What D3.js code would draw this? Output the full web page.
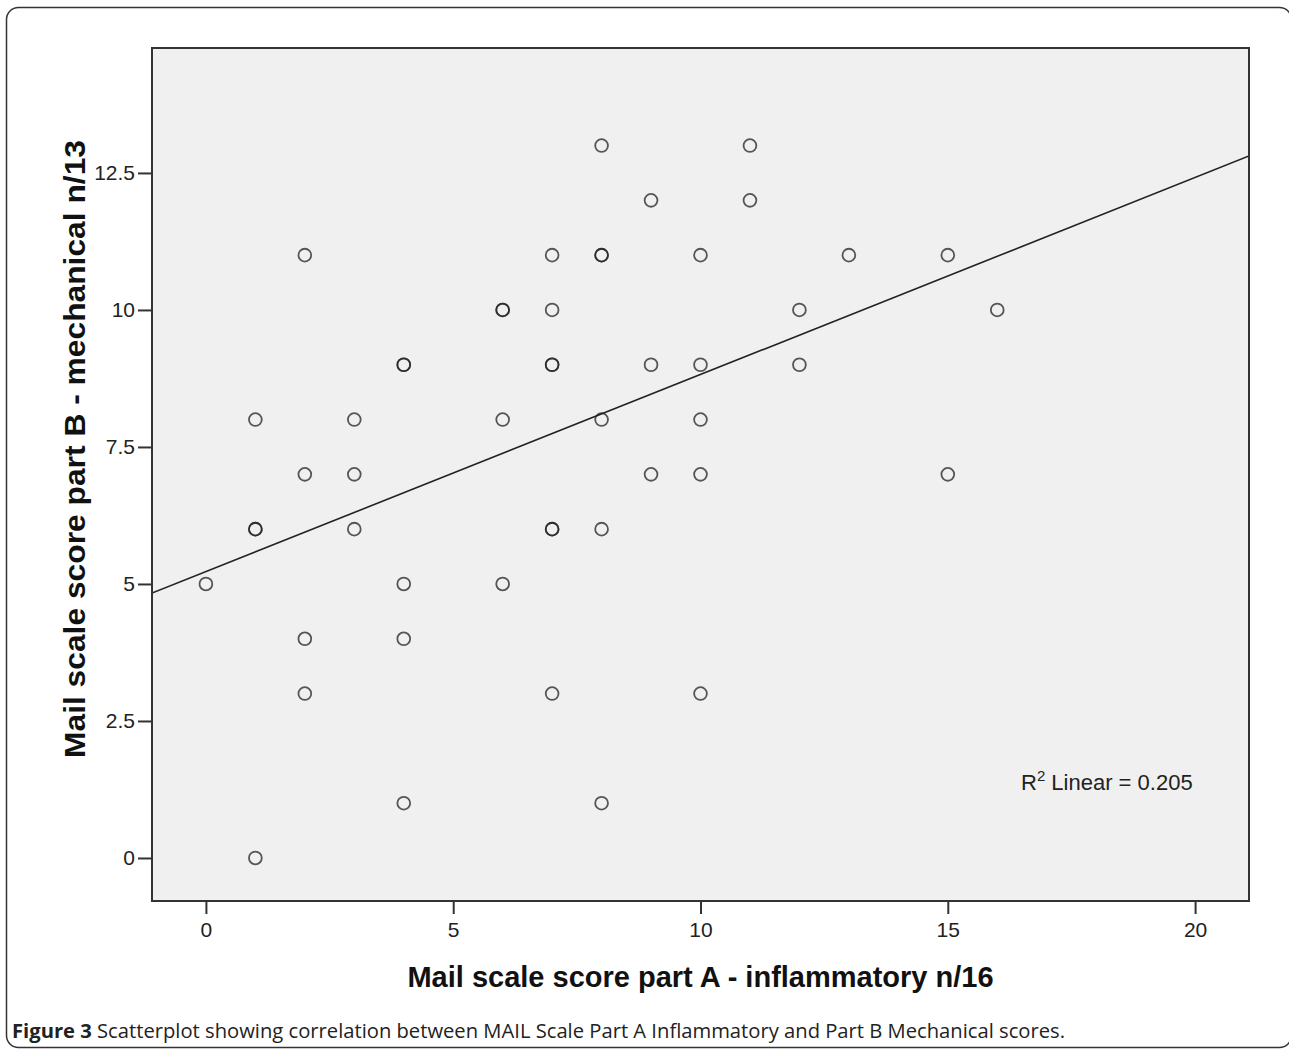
<!DOCTYPE html>
<html>
<head>
<meta charset="utf-8">
<script src="https://cdn.jsdelivr.net/npm/d3@7"></script>
<style>
    body { margin: 0; background: #fff; }
    svg { display: block; }
</style>
</head>
<body>
<div id="chart"></div>
<script>
(() => {

    // Mail scale part A (inflammatory) and part B (mechanical), one entry per patient
    const partA = [0, 1, 1, 1, 1, 2, 2, 2, 2, 3, 3, 3, 4, 4, 4, 4, 4, 6, 6, 6, 6, 7, 7, 7, 7, 7, 7, 7, 8, 8, 8, 8, 8, 8, 9, 9, 9, 10, 10, 10, 10, 10, 11, 11, 12, 12, 13, 15, 15, 16];
    const partB = [5, 0, 6, 6, 8, 11, 7, 4, 3, 8, 7, 6, 9, 9, 5, 4, 1, 10, 10, 8, 5, 11, 10, 9, 9, 6, 6, 3, 13, 11, 11, 8, 6, 1, 12, 9, 7, 11, 9, 8, 7, 3, 13, 12, 10, 9, 11, 11, 7, 10];

    const xTicks = [0, 5, 10, 15, 20];
    const yTicks = [0, 2.5, 5, 7.5, 10, 12.5];

    const svgWidth = 1289;
    const svgHeight = 1051;

    const plot = {
        left: 152,
        top: 48,
        right: 1249,
        bottom: 901
    };

    const svg = d3.select('#chart').append('svg')
        .attr('width', svgWidth)
        .attr('height', svgHeight);

    // Figure frame
    svg.append('rect')
        .attr('x', 6.5)
        .attr('y', 7.5)
        .attr('width', 1285)
        .attr('height', 1040)
        .attr('rx', 12)
        .attr('fill', 'none')
        .attr('stroke', '#333')
        .attr('stroke-width', 1.5);

    const x = d3.scaleLinear()
        .domain([-1.09, 21.09])
        .range([plot.left, plot.right]);

    const y = d3.scaleLinear()
        .domain([-0.785, 14.78])
        .range([plot.bottom, plot.top]);

    svg.append('rect')
        .attr('x', plot.left)
        .attr('y', plot.top)
        .attr('width', plot.right - plot.left)
        .attr('height', plot.bottom - plot.top)
        .attr('fill', '#f0f0f0');

    svg.append('clipPath')
        .attr('id', 'plot-clip')
        .append('rect')
        .attr('x', plot.left)
        .attr('y', plot.top)
        .attr('width', plot.right - plot.left)
        .attr('height', plot.bottom - plot.top);

    // Axes
    const xAxis = svg.append('g')
        .attr('transform', `translate(0,${plot.bottom})`)
        .call(d3.axisBottom(x).tickValues(xTicks).tickFormat(d => d).tickSize(13).tickSizeOuter(0));

    const yAxis = svg.append('g')
        .attr('transform', `translate(${plot.left},0)`)
        .call(d3.axisLeft(y).tickValues(yTicks).tickFormat(d => d).tickSize(14).tickSizeOuter(0));

    [xAxis, yAxis].forEach(axis => {
        axis.select('.domain').remove();
        axis.selectAll('line').attr('stroke', '#333').attr('stroke-width', 2);
        axis.selectAll('text')
            .attr('fill', '#222')
            .style('font-family', '"Liberation Sans", Arial, sans-serif')
            .style('font-size', '21px');
    });
    xAxis.selectAll('text').attr('dy', '0.95em').attr('y', 16);
    yAxis.selectAll('text').attr('x', -17);

    // Linear fit
    const data = partA.map((a, i) => ({ a: a, b: partB[i] }));
    const meanA = d3.mean(partA);
    const meanB = d3.mean(partB);
    const sxy = d3.sum(data, d => (d.a - meanA) * (d.b - meanB));
    const sxx = d3.sum(data, d => (d.a - meanA) ** 2);
    const syy = d3.sum(data, d => (d.b - meanB) ** 2);
    const slope = sxy / sxx;
    const intercept = meanB - slope * meanA;
    const r2 = sxy * sxy / (sxx * syy);

    const ends = x.domain();
    svg.append('line')
        .attr('clip-path', 'url(#plot-clip)')
        .attr('x1', x(ends[0]))
        .attr('y1', y(intercept + slope * ends[0]))
        .attr('x2', x(ends[1]))
        .attr('y2', y(intercept + slope * ends[1]))
        .attr('stroke', '#222')
        .attr('stroke-width', 1.6);

    // Points
    svg.append('g')
        .selectAll('circle')
        .data(data)
        .enter()
        .append('circle')
        .attr('cx', d => x(d.a))
        .attr('cy', d => y(d.b))
        .attr('r', 6.4)
        .attr('fill', 'none')
        .attr('stroke', '#222')
        .attr('stroke-opacity', 0.75)
        .attr('stroke-width', 1.8);

    // Plot frame
    svg.append('rect')
        .attr('x', plot.left)
        .attr('y', plot.top)
        .attr('width', plot.right - plot.left)
        .attr('height', plot.bottom - plot.top)
        .attr('fill', 'none')
        .attr('stroke', '#333')
        .attr('stroke-width', 2);

    // R squared label
    const r2Label = svg.append('text')
        .attr('x', 1021)
        .attr('y', 790)
        .attr('fill', '#222')
        .style('font-family', '"Liberation Sans", Arial, sans-serif')
        .style('font-size', '22px');
    r2Label.append('tspan').text('R');
    r2Label.append('tspan')
        .attr('dy', -9)
        .style('font-size', '15px')
        .text('2');
    r2Label.append('tspan')
        .attr('dy', 9)
        .text(` Linear = ${d3.format('.3f')(r2)}`);

    // Axis titles
    svg.append('text')
        .attr('x', (plot.left + plot.right) / 2)
        .attr('y', 987)
        .style('text-anchor', 'middle')
        .style('font-family', '"Liberation Sans", Arial, sans-serif')
        .style('font-weight', 'bold')
        .style('font-size', '29px')
        .attr('fill', '#111')
        .text('Mail scale score part A - inflammatory n/16');

    svg.append('text')
        .attr('transform', 'translate(85,449) rotate(-90)')
        .style('text-anchor', 'middle')
        .style('font-family', '"Liberation Sans", Arial, sans-serif')
        .style('font-weight', 'bold')
        .style('font-size', '30px')
        .attr('textLength', 618)
        .attr('lengthAdjust', 'spacingAndGlyphs')
        .attr('fill', '#111')
        .text('Mail scale score part B - mechanical n/13');

    // Caption
    const caption = svg.append('text')
        .attr('x', 12)
        .attr('y', 1038)
        .attr('fill', '#222')
        .style('font-family', '"Open Sans", "Noto Sans", sans-serif')
        .style('font-size', '20.2px');
    caption.append('tspan')
        .style('font-weight', 'bold')
        .text('Figure 3');
    caption.append('tspan')
        .text(' Scatterplot showing correlation between MAIL Scale Part A Inflammatory and Part B Mechanical scores.');
})();
</script>
</body>
</html>
